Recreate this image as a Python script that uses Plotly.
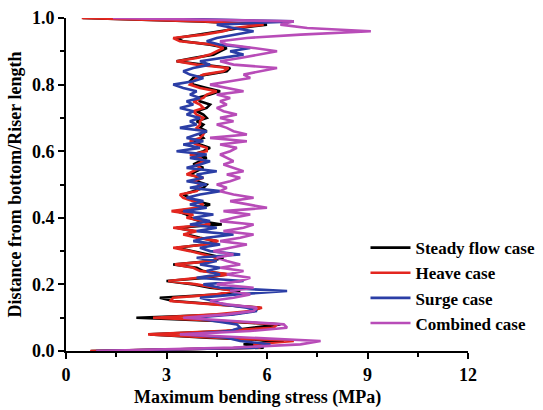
import plotly.graph_objects as go

# Relative height along the riser (distance from bottom / riser length)
heights = [round(i * 0.01, 2) for i in range(101)]

steady = [0.75, 5.9, 5.3, 6.5, 4.2, 2.5, 4.8, 5.6, 6.4, 4.5,
          2.1, 4.9, 5.6, 5.8, 4.5, 3.2, 2.8, 4.6, 5.2, 4.3,
          3.8, 3.0, 4.2, 4.8, 4.1, 3.9, 3.2, 4.3, 4.7, 4.2,
          3.8, 3.3, 4.1, 4.5, 4.0, 3.6, 3.8, 3.3, 4.65, 4.0,
          3.7, 3.6, 3.3, 4.0, 4.3, 3.9, 3.7, 3.5, 3.8, 4.1,
          4.2, 3.9, 4.0, 3.7, 3.9, 4.1, 3.8, 4.0, 4.2, 3.8,
          4.1, 4.3, 4.0, 3.8, 4.1, 4.0, 4.2, 4.0, 4.1, 3.9,
          4.2, 4.1, 3.9, 4.2, 4.3, 4.0, 3.9, 4.3, 4.6, 4.2,
          3.8, 3.7, 3.8, 4.2, 4.8, 4.9, 4.0, 3.3, 3.8, 4.4,
          4.6, 4.8, 4.3, 3.5, 3.3, 4.0, 4.6, 5.2, 6.0, 4.0,
          0.5]

heave = [0.72, 5.8, 5.6, 6.8, 4.5, 2.45, 4.6, 6.2, 6.3, 4.7,
         2.6, 4.5, 5.5, 5.85, 4.4, 3.1, 3.2, 4.5, 5.0, 4.4,
         3.9, 3.05, 4.0, 4.9, 4.0, 3.8, 3.25, 4.4, 4.5, 4.1,
         3.7, 3.2, 4.2, 4.55, 3.9, 3.5, 3.9, 3.2, 4.3, 4.1,
         3.6, 3.8, 3.15, 3.9, 4.1, 3.8, 3.5, 3.4, 3.9, 4.0,
         4.0, 3.8, 4.1, 3.6, 3.8, 4.0, 3.9, 4.1, 4.0, 3.7,
         4.2, 4.2, 3.9, 3.7, 4.0, 4.1, 4.1, 3.9, 4.0, 4.0,
         4.1, 3.9, 3.8, 4.1, 4.0, 3.8, 4.1, 4.2, 4.5, 4.0,
         3.7, 3.8, 3.9, 4.1, 4.7, 4.85, 3.9, 3.3, 3.9, 4.3,
         4.5, 4.7, 4.4, 3.4, 3.2, 4.1, 4.7, 5.0, 5.9, 4.1,
         0.47]

surge = [0.9, 5.7, 6.1, 5.2, 4.8, 3.6, 4.9, 5.2, 5.1, 4.4,
         3.8, 5.0, 5.7, 5.4, 4.7, 4.4, 4.0, 5.1, 6.6, 4.6,
         4.1, 5.3, 3.9, 4.6, 4.2, 4.6, 4.0, 4.5, 3.9, 5.2,
         4.3, 4.0, 4.6, 3.8, 4.2, 5.0, 3.9, 4.5, 3.7, 4.3,
         3.8, 4.4, 3.5, 4.2, 3.7, 4.1, 3.6, 4.0, 4.6, 3.7,
         4.2, 3.6, 4.1, 3.9, 4.5, 3.6, 4.0, 4.3, 3.7, 4.2,
         3.3, 4.0, 3.5, 4.1, 3.6, 3.9, 4.2, 3.4, 3.9, 3.7,
         4.0, 3.6, 3.8, 3.4, 3.8, 3.6, 4.0, 3.7, 3.9, 3.5,
         3.2, 3.8, 4.1, 3.7, 3.5, 3.8, 4.3, 4.0, 4.7, 5.3,
         4.9, 5.5, 4.6, 4.2, 4.5, 5.0, 5.6, 5.0, 4.5, 6.8,
         2.3]

combined = [0.9, 5.0, 7.0, 7.6, 5.5, 3.4, 5.5, 6.6, 6.5, 5.0,
            3.5, 4.8, 5.6, 5.7, 4.8, 4.3, 5.0, 5.5, 4.9, 5.6,
            4.5, 5.2, 5.5, 4.8, 5.3, 4.6, 5.2, 4.8, 4.5, 5.0,
            4.4, 4.9, 5.4, 4.6, 5.2, 5.6, 4.7, 5.3, 5.6, 4.6,
            5.0, 5.5, 4.7, 6.0, 5.4, 4.9, 5.6, 5.0, 4.6, 4.8,
            4.5, 4.9, 5.2, 4.8, 5.3, 5.0, 4.7, 5.0, 4.8, 4.6,
            4.9, 5.1, 4.6, 5.4, 4.3, 5.4, 5.0, 4.8, 4.5, 5.0,
            4.6, 5.1, 4.7, 4.5, 4.8, 4.6, 4.9, 4.5, 5.3, 4.8,
            4.3, 4.9, 5.5, 5.3, 5.8, 6.3, 5.0, 4.6, 5.2, 5.7,
            6.3, 5.6, 4.8, 4.6, 5.4, 7.0, 9.1, 7.2, 6.4, 6.8,
            1.4]

series_names = ["Steady flow case", "Heave case", "Surge case", "Combined case"]
series_values = [steady, heave, surge, combined]
series_colors = ["#000000", "#e3261f", "#2b3ea6", "#b84cb8"]

x_ticks = [0, 3, 6, 9, 12]
y_ticks = [0.0, 0.2, 0.4, 0.6, 0.8, 1.0]
y_tick_labels = ["0.0", "0.2", "0.4", "0.6", "0.8", "1.0"]

fig = go.Figure()
for name, vals, col in zip(series_names, series_values, series_colors):
    fig.add_trace(go.Scatter(x=vals, y=heights, mode="lines", name=name,
                             line=dict(color=col, width=2.6)))

font_family = "Liberation Serif"
fig.update_layout(
    width=543, height=410,
    margin=dict(l=66, r=75, t=18, b=59, autoexpand=False),
    paper_bgcolor="white", plot_bgcolor="white",
    font=dict(family=font_family, color="black"),
    showlegend=True,
    legend=dict(x=0.745, y=0.363, xanchor="left", yanchor="top",
                bgcolor="rgba(0,0,0,0)",
                font=dict(family=font_family, size=17, color="black", weight="bold"),
                tracegroupgap=0, itemwidth=40),
    annotations=[dict(text="Maximum bending stress (MPa)", xref="paper", yref="paper",
                      x=0.476, y=0, yshift=-46, xanchor="center", yanchor="middle",
                      showarrow=False,
                      font=dict(family=font_family, size=18, color="black", weight="bold"))],
)
fig.update_xaxes(
    range=[0, 12], tickvals=x_ticks, ticktext=[str(v) for v in x_ticks],
    showline=True, linecolor="black", linewidth=2,
    ticks="outside", ticklen=6, tickwidth=2, tickcolor="black",
    minor=dict(dtick=1.5, ticks="outside", ticklen=4, tickwidth=2, tickcolor="black"),
    showgrid=False, zeroline=False,
    tickfont=dict(family=font_family, size=18, color="black", weight="bold"),
)
fig.update_yaxes(
    range=[0, 1], tickvals=y_ticks, ticktext=y_tick_labels,
    showline=True, linecolor="black", linewidth=2,
    ticks="outside", ticklen=6, tickwidth=2, tickcolor="black",
    minor=dict(dtick=0.1, ticks="outside", ticklen=4, tickwidth=2, tickcolor="black"),
    showgrid=False, zeroline=False,
    tickfont=dict(family=font_family, size=18, color="black", weight="bold"),
    title=dict(text="Distance from bottom/Riser length", standoff=6,
               font=dict(family=font_family, size=18, color="black", weight="bold")),
)

fig.write_html("out.html")
